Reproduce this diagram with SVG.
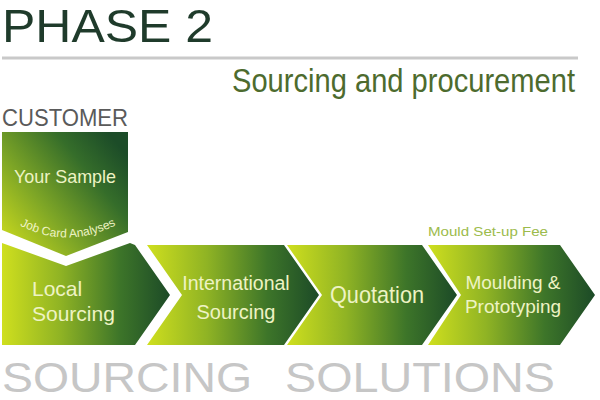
<svg xmlns="http://www.w3.org/2000/svg" width="600" height="400" viewBox="0 0 600 400">
  <defs>
    <linearGradient id="gH" x1="0" y1="0" x2="1" y2="0">
      <stop offset="0" stop-color="#cfdf1e"/>
      <stop offset="0.35" stop-color="#8fb324"/>
      <stop offset="0.7" stop-color="#3d7529"/>
      <stop offset="1" stop-color="#1c4a27"/>
    </linearGradient>
    <linearGradient id="gD" x1="0" y1="1" x2="1" y2="0.2">
      <stop offset="0" stop-color="#d6e21c"/>
      <stop offset="0.4" stop-color="#7ea626"/>
      <stop offset="0.75" stop-color="#356d2a"/>
      <stop offset="1" stop-color="#1c4c28"/>
    </linearGradient>
    <path id="jcPath" d="M12,221 Q66,254 124,221"/>
    <style>
      .t { font-family: "Liberation Sans", Arial, sans-serif; }
      .lbl { fill: #eef3c4; font-family: "Liberation Sans", Arial, sans-serif; }
    </style>
  </defs>
  <rect width="600" height="400" fill="#ffffff"/>

  <text class="t" x="2" y="42" font-size="47" fill="#1f3b2b" textLength="211" lengthAdjust="spacingAndGlyphs">PHASE 2</text>
  <line x1="2" y1="58" x2="578" y2="58" stroke="#c9c9c9" stroke-width="3"/>
  <text class="t" x="232" y="80" transform="scale(1,1.15)" font-size="28.5" fill="#4d6b2e" textLength="343" lengthAdjust="spacingAndGlyphs">Sourcing and procurement</text>
  <text class="t" x="2" y="126" font-size="23" fill="#5a5a5a" textLength="126" lengthAdjust="spacingAndGlyphs">CUSTOMER</text>

  <g id="customer">
    <polygon points="2,132 128,132 128,232 66,256 2,230" fill="url(#gD)"/>
    <text class="lbl" x="65" y="183" font-size="19" text-anchor="middle" textLength="102" lengthAdjust="spacingAndGlyphs">Your Sample</text>
    <text class="lbl" font-size="12"><textPath href="#jcPath" startOffset="50%" text-anchor="middle">Job Card Analyses</textPath></text>
  </g>

  <g id="local">
    <polygon points="2,243 66,266 130,243 135,245 170,295 135,345 2,345" fill="url(#gH)"/>
    <text class="lbl" x="32" y="296" font-size="21">Local</text>
    <text class="lbl" x="32" y="321" font-size="21">Sourcing</text>
  </g>

  <g id="international">
    <polygon points="147,245 284,245 319,295 284,345 147,345 182,295" fill="url(#gH)"/>
    <text class="lbl" x="236" y="290" font-size="19.5" text-anchor="middle">International</text>
    <text class="lbl" x="236" y="319" font-size="20" text-anchor="middle">Sourcing</text>
  </g>

  <g id="quotation">
    <polygon points="287,245 422,245 457,295 422,345 287,345 322,295" fill="url(#gH)"/>
    <text class="lbl" x="377" y="303" font-size="24" text-anchor="middle" textLength="94" lengthAdjust="spacingAndGlyphs">Quotation</text>
  </g>

  <g id="moulding">
    <text class="t" x="428" y="236" font-size="13" fill="#9cbb4c" textLength="120" lengthAdjust="spacingAndGlyphs">Mould Set-up Fee</text>
    <polygon points="428,245 560,245 595,295 560,345 428,345 461,295" fill="url(#gH)"/>
    <text class="lbl" x="513" y="289" font-size="19" text-anchor="middle">Moulding &amp;</text>
    <text class="lbl" x="513" y="313" font-size="19" text-anchor="middle">Prototyping</text>
  </g>

  <g id="connectors"></g>

  <text class="t" y="392" font-size="42" fill="#c6c6c6"><tspan x="2" textLength="250" lengthAdjust="spacingAndGlyphs">SOURCING</tspan><tspan x="285" textLength="270" lengthAdjust="spacingAndGlyphs">SOLUTIONS</tspan></text>
</svg>
